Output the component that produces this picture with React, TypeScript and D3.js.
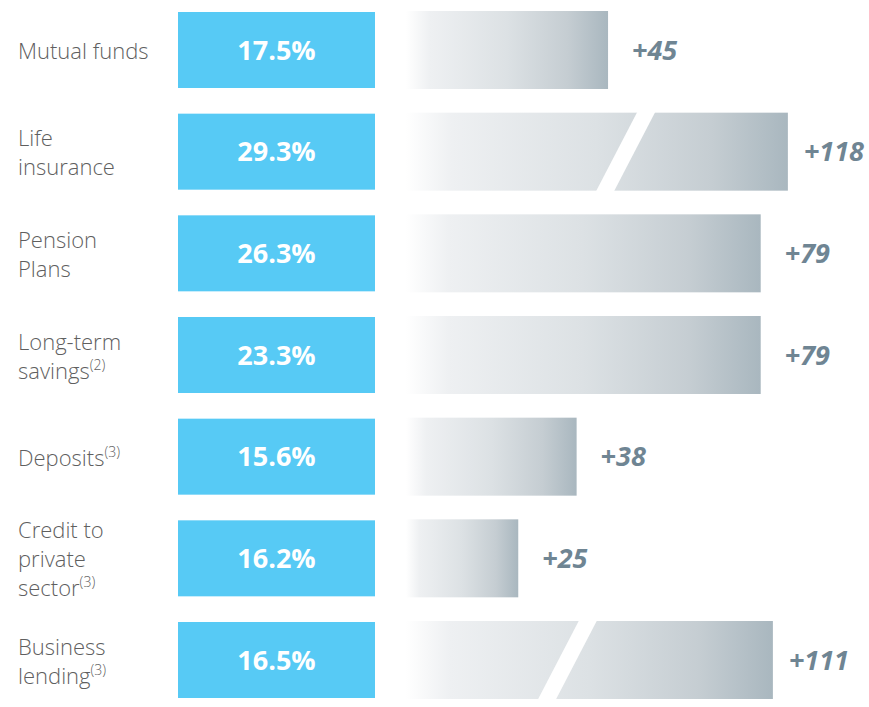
import React from "react";
import * as d3 from "d3";

const categories = [
  "Mutual funds",
  "Life insurance",
  "Pension Plans",
  "Long-term savings",
  "Deposits",
  "Credit to private sector",
  "Business lending",
];
const labelLines = [
  ["Mutual funds"],
  ["Life", "insurance"],
  ["Pension", "Plans"],
  ["Long-term", "savings"],
  ["Deposits"],
  ["Credit to", "private", "sector"],
  ["Business", "lending"],
];
const footnotes = ["", "", "", "(2)", "(3)", "(3)", "(3)"];
const shares = [17.5, 29.3, 26.3, 23.3, 15.6, 16.2, 16.5];
const increases = [45, 118, 79, 79, 38, 25, 111];

// style config
const W = 869;
const H = 707;
const BLUE = "#57caf5";
const LABEL_COLOR = "#5f5f5f";
const VALUE_COLOR = "#6f8593";
const BREAK_THRESHOLD = 100; // bars above this get an axis break
const BREAK_FRACTION: Record<string, number> = {
  "Life insurance": 0.575,
  "Business lending": 0.44,
};

export default function App() {
  const y = d3
    .scaleBand<string>()
    .domain(categories)
    .range([12, 698])
    .paddingInner(0.2525)
    .paddingOuter(0);
  const x = d3.scaleLinear().domain([0, 100]).range([406, 855]);
  // compressed scale for broken bars
  const xBroken = d3
    .scaleLinear()
    .domain([0, 55, 130])
    .range([x(0), x(55), x(55 + 75 * 0.477)]);

  const bw = y.bandwidth();
  const slope = 0.52;
  const gapW = 18;

  return (
    <svg
      width={W}
      height={H}
      style={{ position: "absolute", left: 0, top: 0, display: "block" }}
    >
      <defs>
        <linearGradient id="grayGrad" x1="0" y1="0" x2="1" y2="0">
          <stop offset="0" stopColor="#ffffff" />
          <stop offset="0.12" stopColor="#eef0f2" />
          <stop offset="0.5" stopColor="#dce1e4" />
          <stop offset="0.8" stopColor="#c5cdd2" />
          <stop offset="1" stopColor="#a9b7bf" />
        </linearGradient>
      </defs>
      {categories.map((c, i) => {
        const top = y(c)!;
        const cy = top + bw / 2;
        const v = increases[i];
        const broken = v > BREAK_THRESHOLD;
        const xEnd = broken ? xBroken(v) : x(v);
        const lines = labelLines[i];
        const n = lines.length;
        let slash = null;
        if (broken) {
          const bx = x(0) + (xEnd - x(0)) * (BREAK_FRACTION[c] ?? 0.5);
          const y0 = top - 15;
          const y1 = top + bw + 6;
          const xt = bx + (cy - y0) * slope;
          const xb = bx - (y1 - cy) * slope;
          slash = (
            <polygon
              points={`${xt - gapW / 2},${y0} ${xt + gapW / 2},${y0} ${xb + gapW / 2},${y1} ${xb - gapW / 2},${y1}`}
              fill="#ffffff"
            />
          );
        }
        return (
          <g key={c}>
            <text
              x={18}
              fontFamily="'Open Sans', sans-serif"
              fontWeight={300}
              fontSize={22}
              fill={LABEL_COLOR}
            >
              {lines.map((l, j) => (
                <tspan key={j} x={18} y={cy + (j - (n - 1) / 2) * 29 + 9}>
                  {l}
                  {j === n - 1 && footnotes[i] ? (
                    <tspan fontSize={14} dy={-9}>
                      {footnotes[i]}
                    </tspan>
                  ) : null}
                </tspan>
              ))}
            </text>
            <rect x={178} y={top} width={197} height={bw} fill={BLUE} />
            <text
              x={178 + 197 / 2}
              y={cy}
              dy="0.36em"
              textAnchor="middle"
              fontFamily="'Open Sans', sans-serif"
              fontWeight={700}
              fontSize={27}
              fill="#ffffff"
            >
              {shares[i].toFixed(1)}%
            </text>
            <rect
              x={x(0)}
              y={top - 1}
              width={xEnd - x(0)}
              height={bw + 2}
              fill="url(#grayGrad)"
            />
            {slash}
            <text
              x={xEnd + (broken ? 16 : 24)}
              y={cy}
              dy="0.36em"
              fontFamily="'Open Sans', sans-serif"
              fontWeight={700}
              fontStyle="italic"
              fontSize={27}
              fill={VALUE_COLOR}
            >
              +{v}
            </text>
          </g>
        );
      })}
    </svg>
  );
}
